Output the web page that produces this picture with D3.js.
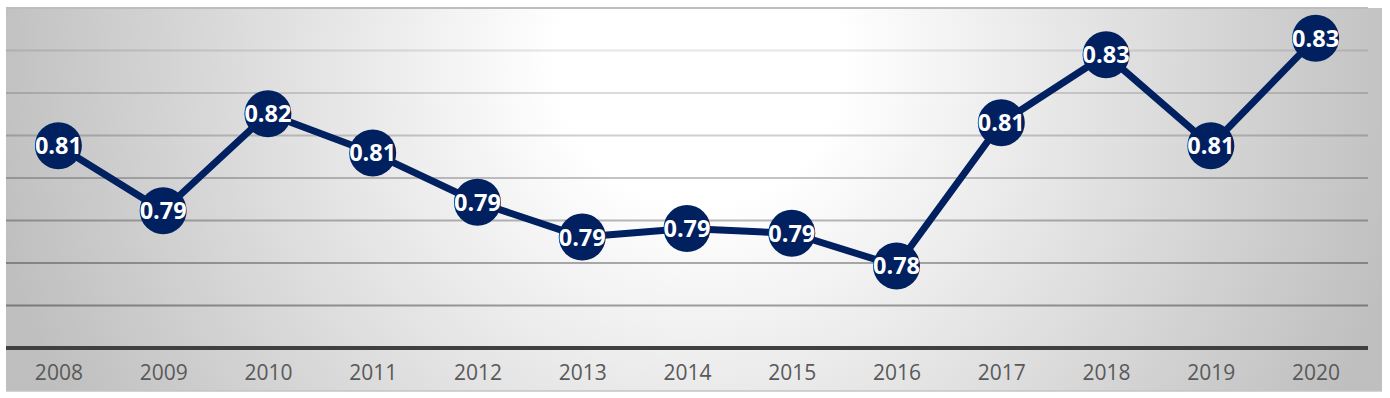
<!DOCTYPE html>
<html>
<head>
<meta charset="utf-8">
<script src="https://cdn.jsdelivr.net/npm/d3@7"></script>
<style>
  body { margin: 0; background: #fff; }
  svg { display: block; }
</style>
</head>
<body>
<script>
var width = 1390,
    height = 398;

var years = ["2008", "2009", "2010", "2011", "2012", "2013", "2014", "2015", "2016", "2017", "2018", "2019", "2020"];
var values = [0.8076, 0.7923, 0.8151, 0.8059, 0.7943, 0.7861, 0.7881, 0.7870, 0.7793, 0.8130, 0.8290, 0.8076, 0.8329];
var gridTicks = [0.77, 0.78, 0.79, 0.80, 0.81, 0.82, 0.83];

var panel = {left: 6, right: 1382, top: 8, bottom: 391};
var plot = {left: 6, right: 1368, top: 8, bottom: 348};

var xScale = d3.scalePoint()
    .domain(years)
    .range([plot.left, plot.right])
    .padding(0.5);

var yScale = d3.scaleLinear()
    .domain([0.76, 0.84])
    .range([plot.bottom, plot.top]);

// gridlines get darker toward the bottom
var gridAlpha = d3.scaleLinear()
    .domain([0.83, 0.77])
    .range([0.1, 0.36]);

var fmt = d3.format(".2f");

var svg = d3.select("body")
    .append("svg")
    .attr("width", width)
    .attr("height", height);

var defs = svg.append("defs");
var grad = defs.append("radialGradient")
    .attr("id", "bg")
    .attr("gradientUnits", "userSpaceOnUse")
    .attr("cx", 700)
    .attr("cy", 60)
    .attr("r", 720);
grad.append("stop").attr("offset", "0").attr("stop-color", "#ffffff");
grad.append("stop").attr("offset", "0.2").attr("stop-color", "#ffffff");
grad.append("stop").attr("offset", "1").attr("stop-color", "#bfbfbf");

//background panel
svg.append("rect")
    .attr("x", panel.left)
    .attr("y", panel.top)
    .attr("width", panel.right - panel.left)
    .attr("height", panel.bottom - panel.top)
    .attr("fill", "url(#bg)");

svg.append("line")
    .attr("x1", panel.left)
    .attr("x2", panel.right)
    .attr("y1", panel.bottom)
    .attr("y2", panel.bottom)
    .attr("stroke", "#c4c4c4")
    .attr("stroke-width", 1.5);

//top border of plot
svg.append("line")
    .attr("x1", plot.left)
    .attr("x2", plot.right)
    .attr("y1", yScale(0.84))
    .attr("y2", yScale(0.84))
    .attr("stroke", "#bdbdbd")
    .attr("stroke-width", 2);

//gridlines
svg.selectAll("line.grid")
    .data(gridTicks)
    .enter()
    .append("line")
    .attr("class", "grid")
    .attr("x1", plot.left)
    .attr("x2", plot.right)
    .attr("y1", function(d) { return yScale(d); })
    .attr("y2", function(d) { return yScale(d); })
    .attr("stroke", "#000")
    .attr("stroke-opacity", function(d) { return gridAlpha(d); })
    .attr("stroke-width", 2);

//x axis
var xAxis = d3.axisBottom(xScale).tickSize(0).tickPadding(0);
var gx = svg.append("g")
    .attr("transform", "translate(0," + plot.bottom + ")")
    .call(xAxis);
gx.select(".domain").remove();
gx.selectAll("text")
    .attr("y", 32)
    .attr("dy", null)
    .attr("fill", "#595959")
    .style("font-family", "'Open Sans', sans-serif")
    .style("font-size", "21px");

svg.append("line")
    .attr("x1", plot.left)
    .attr("x2", plot.right)
    .attr("y1", plot.bottom)
    .attr("y2", plot.bottom)
    .attr("stroke", "#404040")
    .attr("stroke-width", 4);

//line
var line = d3.line()
    .x(function(d, i) { return xScale(years[i]); })
    .y(function(d) { return yScale(d); });

svg.append("path")
    .datum(values)
    .attr("d", line)
    .attr("fill", "none")
    .attr("stroke", "#002060")
    .attr("stroke-width", 7)
    .attr("stroke-linejoin", "round");

//markers
svg.selectAll("circle.dot")
    .data(values)
    .enter()
    .append("circle")
    .attr("class", "dot")
    .attr("cx", function(d, i) { return xScale(years[i]); })
    .attr("cy", function(d) { return yScale(d); })
    .attr("r", 23.5)
    .attr("fill", "#002060");

//labels
svg.selectAll("text.lbl")
    .data(values)
    .enter()
    .append("text")
    .attr("class", "lbl")
    .attr("x", function(d, i) { return xScale(years[i]); })
    .attr("y", function(d) { return yScale(d) + 8.5; })
    .attr("text-anchor", "middle")
    .attr("fill", "#fff")
    .style("font-family", "'Open Sans', sans-serif")
    .style("font-weight", "bold")
    .style("font-size", "23.5px")
    .text(function(d) { return fmt(d); });
</script>
</body>
</html>
